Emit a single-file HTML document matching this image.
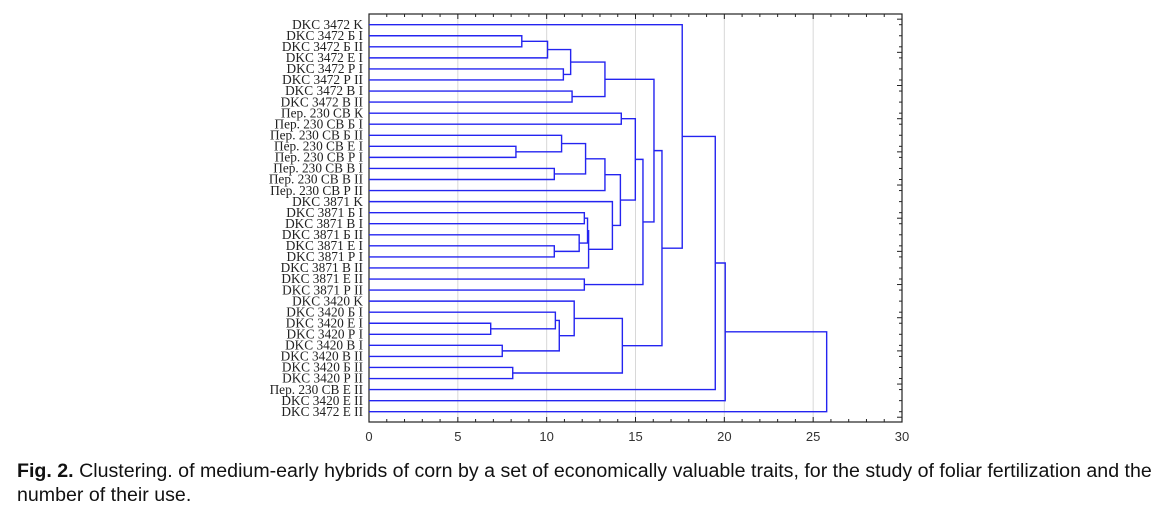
<!DOCTYPE html>
<html><head><meta charset="utf-8"><style>
body{margin:0;background:#fff;width:1164px;height:507px;overflow:hidden;position:relative;font-family:"Liberation Sans",Arial,sans-serif}
#cap{position:absolute;left:17px;top:459px;font-size:19.6px;line-height:24px;color:#111;width:1147px;white-space:nowrap}
</style></head><body>
<svg id="chart" width="1164" height="507" style="position:absolute;left:0;top:0"></svg>
<div id="cap"><b>Fig. 2.</b> Clustering. of medium-early hybrids of corn by a set of economically valuable traits, for the study of foliar fertilization and the<br>number of their use.</div>
<script>
const leaves=["DKC 3472 K","DKC 3472 Б I","DKC 3472 Б II","DKC 3472 Е I","DKC 3472 Р I","DKC 3472 Р II","DKC 3472 В I","DKC 3472 В II","Пер. 230 СВ К","Пер. 230 СВ Б I","Пер. 230 СВ Б II","Пер. 230 СВ Е I","Пер. 230 СВ Р I","Пер. 230 СВ В I","Пер. 230 СВ В II","Пер. 230 СВ Р II","DKC 3871 K","DKC 3871 Б I","DKC 3871 В I","DKC 3871 Б II","DKC 3871 Е I","DKC 3871 Р I","DKC 3871 В II","DKC 3871 Е II","DKC 3871 Р II","DKC 3420 K","DKC 3420 Б I","DKC 3420 Е I","DKC 3420 Р I","DKC 3420 В I","DKC 3420 В II","DKC 3420 Б II","DKC 3420 Р II","Пер. 230 СВ Е II","DKC 3420 Е II","DKC 3472 Е II"];
const mergeLeft=[1,36,4,37,6,39,8,11,10,13,44,46,17,20,19,48,51,16,47,42,23,55,41,27,26,29,60,25,31,63,58,0,67,68,69];
const mergeRight=[2,3,5,38,7,40,9,12,43,14,45,15,18,21,49,50,22,52,53,54,24,56,57,28,59,30,61,62,32,64,65,66,33,34,35];
const mergeHeight=[8.6,10.05,10.94,11.35,11.43,13.28,14.2,8.27,10.84,10.43,12.19,13.28,12.12,10.43,11.83,12.3,12.36,13.7,14.15,14.99,12.12,15.42,16.04,6.85,10.49,7.5,10.71,11.55,8.09,14.26,16.49,17.63,19.49,20.05,25.76];
const xTicks=[0,5,10,15,20,25,30];
const NS="http://www.w3.org/2000/svg",svg=document.getElementById('chart');
const X0=369,X1=902,Y0=14,Y1=422,LY0=24.7,LY1=411.7;
const xs=v=>X0+(v-0)/(30-0)*(X1-X0);
const ys=i=>LY0+i*(LY1-LY0)/(leaves.length-1);
function mk(t,a,p){const e=document.createElementNS(NS,t);for(const k in a)e.setAttribute(k,a[k]);(p||svg).appendChild(e);return e;}
xTicks.slice(1,-1).forEach(v=>{const g=mk('line',{x1:xs(v),x2:xs(v),y1:Y0,y2:Y1,stroke:'#d8d8d8','stroke-width':1});

});
const fr=mk('rect',{x:X0,y:Y0,width:X1-X0,height:Y1-Y0,fill:'none',stroke:'#222','stroke-width':1.2});


for(let v=0;v<=30;v++){const L=v%5==0?5:3;
mk('line',{x1:xs(v),x2:xs(v),y1:Y1,y2:Y1-L,stroke:'#222','stroke-width':1});
mk('line',{x1:xs(v),x2:xs(v),y1:Y0,y2:Y0+L,stroke:'#222','stroke-width':1});}
leaves.forEach((n,i)=>{mk('line',{x1:X1,x2:X1-3,y1:ys(i),y2:ys(i),stroke:'#222','stroke-width':1});});
for(let i=0;i<=leaves.length;i++){const y=LY0+(i-0.5)*(LY1-LY0)/(leaves.length-1);if(y>Y0&&y<Y1&&i%3==0)mk('line',{x1:X1,x2:X1-5,y1:y,y2:y,stroke:'#222','stroke-width':1});}
xTicks.forEach(v=>{const t=mk('text',{x:xs(v),y:441,'text-anchor':'middle','font-size':13,fill:'#333','font-family':'Liberation Sans, Arial, sans-serif'});t.textContent=v;

});
leaves.forEach((n,i)=>{const t=mk('text',{x:363,y:ys(i)+4.2,'text-anchor':'end','font-size':13.3,fill:'#222','font-family':'Liberation Serif, serif'});t.textContent=n;

});
const pos=leaves.map((n,i)=>({y:ys(i),h:0}));
mergeLeft.forEach((a,k)=>{const b=mergeRight[k],h=mergeHeight[k],A=pos[a],B=pos[b];
const d=`M${xs(A.h)},${A.y}H${xs(h)}V${B.y}H${xs(B.h)}`;
const p=mk('path',{d,fill:'none',stroke:'#2424f0','stroke-width':1.4});


pos.push({y:(A.y+B.y)/2,h});});
</script>
</body></html>
